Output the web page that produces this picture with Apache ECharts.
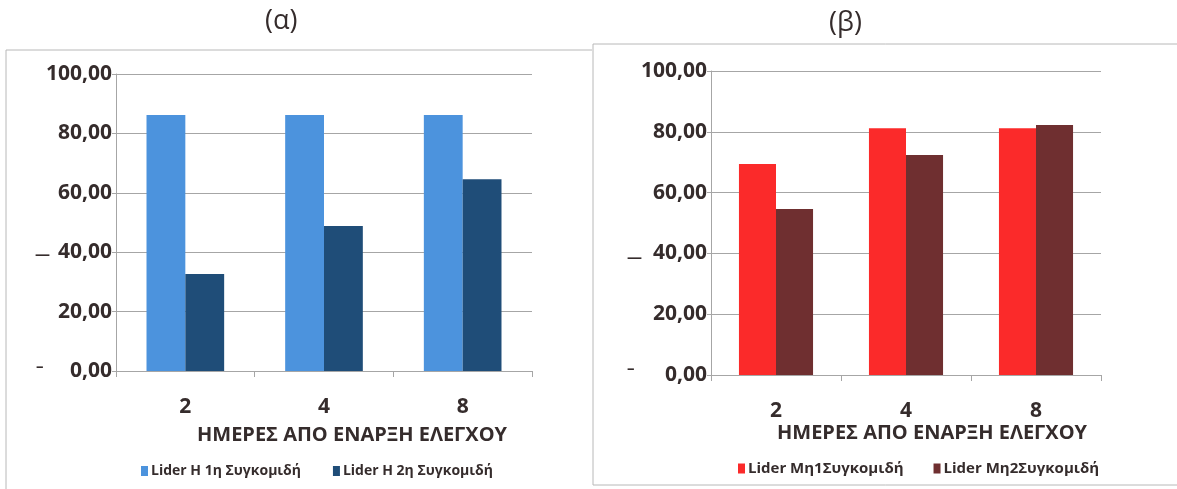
<!DOCTYPE html>
<html>
<head>
<meta charset="utf-8">
<script src="https://cdn.jsdelivr.net/npm/echarts@6/dist/echarts.min.js"></script>
<style>
  html, body { margin: 0; padding: 0; background: #ffffff; }
  #chart { width: 1177px; height: 489px; }
</style>
</head>
<body>
<div id="chart"></div>
<script>
// Days since start of monitoring
const categories = ['2', '4', '8'];
const yTicks = [0, 20, 40, 60, 80, 100];

// Panel (α): Lider H
const leftNames = ['Lider Η 1η Συγκομιδή', 'Lider Η 2η Συγκομιδή'];
const leftFirst = [86.2, 86.2, 86.2];
const leftSecond = [32.7, 48.8, 64.6];

// Panel (β): Lider Mη
const rightNames = ['Lider Μη1Συγκομιδή', 'Lider Μη2Συγκομιδή'];
const rightFirst = [69.4, 81.2, 81.2];
const rightSecond = [54.6, 72.4, 82.2];

const axisTitle = 'ΗΜΕΡΕΣ ΑΠΟ ΕΝΑΡΞΗ ΕΛΕΓΧΟΥ';
const panelTitles = ['(α)', '(β)'];

const FONT = '"Open Sans", "Noto Sans", sans-serif';
const TEXT = '#352c2c';
const GRID = '#a6a6a6';

const chart = echarts.init(document.getElementById('chart'), null, { renderer: 'canvas' });

function yAxisCfg(gridIndex) {
  return {
    type: 'value', gridIndex, min: yTicks[0], max: yTicks[yTicks.length - 1], interval: 20,
    axisLine: { show: true, lineStyle: { color: GRID, width: 1 } },
    axisTick: { show: true, length: 4, lineStyle: { color: GRID } },
    splitLine: { show: true, lineStyle: { color: GRID, width: 1 } },
    axisLabel: {
      margin: 4, fontFamily: FONT, fontWeight: 'bold', fontSize: 21, color: TEXT,
      formatter: v => v.toFixed(2).replace('.', ',')
    }
  };
}
function xAxisCfg(gridIndex) {
  return {
    type: 'category', gridIndex, data: categories,
    axisLine: { show: true, lineStyle: { color: GRID, width: 1 } },
    axisTick: { show: true, length: 6, inside: false, lineStyle: { color: GRID } },
    axisLabel: { margin: 26, fontFamily: FONT, fontWeight: 'bold', fontSize: 21, color: TEXT }
  };
}
function bar(name, data, color, idx, gap) {
  return {
    type: 'bar', name, data, xAxisIndex: idx, yAxisIndex: idx,
    barGap: '0%', barCategoryGap: gap, itemStyle: { color }, silent: true
  };
}
function legendCfg(names, left, top, gap, size) {
  return {
    data: names, left, top, itemWidth: 7, itemHeight: 10, itemGap: gap,
    icon: 'rect', selectedMode: false,
    textStyle: { fontFamily: FONT, fontWeight: 'bold', fontSize: size, color: TEXT, padding: [0, 0, 0, -2] }
  };
}
function label(text, x, y, size, weight) {
  return {
    type: 'text', left: x, top: y,
    style: { text, fontFamily: FONT, fontSize: size, fontWeight: weight, fill: TEXT }
  };
}

chart.setOption({
  animation: false,
  backgroundColor: '#ffffff',
  grid: [
    { left: 116, right: 1177 - 532, top: 74, bottom: 489 - 371 },
    { left: 711, right: 1177 - 1101, top: 71, bottom: 489 - 375 }
  ],
  xAxis: [xAxisCfg(0), xAxisCfg(1)],
  yAxis: [yAxisCfg(0), yAxisCfg(1)],
  legend: [legendCfg(leftNames, 136, 459, 32, 14), legendCfg(rightNames, 733, 456, 30, 15)],
  series: [
    bar(leftNames[0], leftFirst, '#4c93dd', 0, '44%'),
    bar(leftNames[1], leftSecond, '#1f4d78', 0, '44%'),
    bar(rightNames[0], rightFirst, '#fb2a2a', 1, '43%'),
    bar(rightNames[1], rightSecond, '#6f2f30', 1, '43%')
  ],
  graphic: [
    // panel frames
    { type: 'polyline', shape: { points: [[6, 495], [6, 50], [592, 50]] }, style: { stroke: '#b8b8b8', fill: null, lineWidth: 1 } },
    { type: 'rect', shape: { x: 593, y: 44, width: 600, height: 441 }, style: { stroke: '#b8b8b8', fill: null, lineWidth: 1 } },
    // panel titles
    label(panelTitles[0], 265, 8, 27, 'normal'),
    label(panelTitles[1], 829, 10, 27, 'normal'),
    // axis titles
    label(axisTitle, 197, 425, 20, 'bold'),
    label(axisTitle, 777, 423, 20, 'bold'),
    // stray dashes beside the value labels
    label('—', 35, 247, 15, 'bold'),
    label('–', 36, 359, 15, 'bold'),
    label('—', 627, 250, 15, 'bold'),
    label('–', 627, 361, 15, 'bold')
  ]
});
</script>
</body>
</html>
